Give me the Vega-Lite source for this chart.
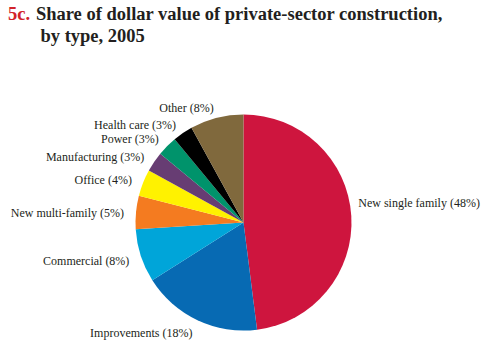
{
  "$schema": "https://vega.github.io/schema/vega-lite/v6.json",
  "width": 487,
  "height": 265,
  "autosize": {"type": "none"},
  "padding": {"left": 0, "top": 90, "right": 0, "bottom": 0},
  "background": "white",
  "view": {"stroke": null},
  "title": {
    "text": "5c.",
    "subtitle": ["\u2800\u00a0\u00a0\u00a0Share of dollar value of private-sector construction,", "\u2800\u00a0\u00a0\u00a0\u00a0by type, 2005"],
    "anchor": "start",
    "frame": "group",
    "dx": 8,
    "offset": 45,
    "font": "Liberation Serif",
    "fontSize": 18.5,
    "fontWeight": "bold",
    "color": "#d2232a",
    "subtitleFont": "Liberation Serif",
    "subtitleFontSize": 18.5,
    "subtitleFontWeight": "bold",
    "subtitleColor": "#231f20",
    "subtitleLineHeight": 21.5,
    "subtitlePadding": -18.5
  },
  "data": {
    "values": [
      {"rank": 1, "type": "New single family", "share": 48},
      {"rank": 2, "type": "Improvements", "share": 18},
      {"rank": 3, "type": "Commercial", "share": 8},
      {"rank": 4, "type": "New multi-family", "share": 5},
      {"rank": 5, "type": "Office", "share": 4},
      {"rank": 6, "type": "Manufacturing", "share": 3},
      {"rank": 7, "type": "Power", "share": 3},
      {"rank": 8, "type": "Health care", "share": 3},
      {"rank": 9, "type": "Other", "share": 8}
    ]
  },
  "transform": [{"calculate": "datum.type + ' (' + datum.share + '%)'", "as": "label"}],
  "encoding": {
    "theta": {"field": "share", "type": "quantitative", "stack": true},
    "order": {"field": "rank", "type": "quantitative", "sort": "ascending"}
  },
  "layer": [
    {
      "mark": {"type": "arc", "outerRadius": 108},
      "encoding": {
        "color": {
          "field": "type",
          "type": "nominal",
          "legend": null,
          "scale": {
            "domain": ["New single family", "Improvements", "Commercial", "New multi-family", "Office", "Manufacturing", "Power", "Health care", "Other"],
            "range": ["#ce153e", "#076ab3", "#00a5d9", "#f47b20", "#fff200", "#673d73", "#00936b", "#000000", "#80693d"]
          }
        }
      }
    },
    {
      "mark": {"type": "text", "radius": 115, "dy": -12, "align": "left", "baseline": "middle", "font": "Liberation Serif", "fontSize": 12, "color": "#231f20"},
      "encoding": {
        "text": {"condition": {"test": "datum.type === 'New single family'", "field": "label", "type": "nominal"}, "value": ""}
      }
    },
    {
      "mark": {"type": "text", "radius": 120, "dy": 1.5, "align": "right", "baseline": "middle", "font": "Liberation Serif", "fontSize": 12, "color": "#231f20"},
      "encoding": {
        "text": {"condition": {"test": "datum.type !== 'New single family'", "field": "label", "type": "nominal"}, "value": ""}
      }
    }
  ]
}
